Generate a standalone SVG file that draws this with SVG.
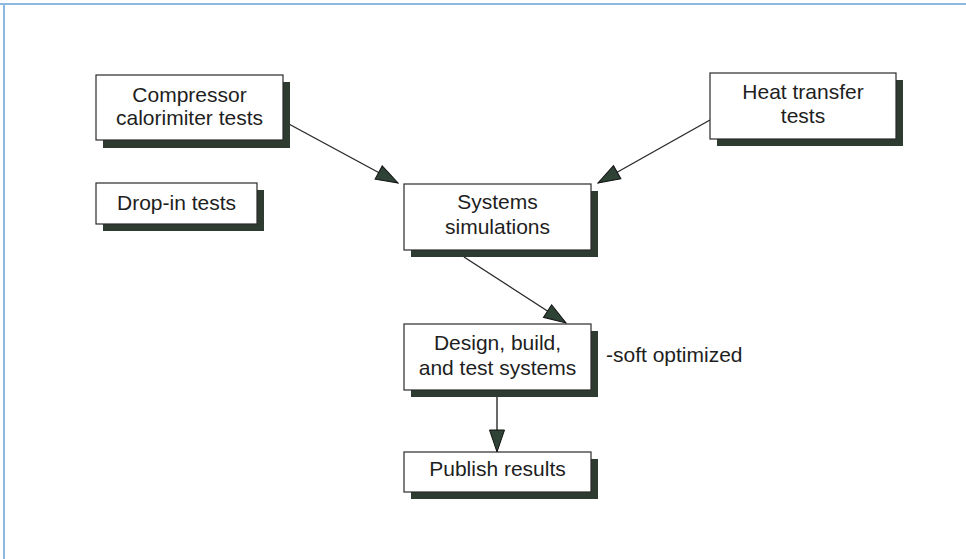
<svg xmlns="http://www.w3.org/2000/svg" width="966" height="559" viewBox="0 0 966 559">
  <style>
    .box { fill: #ffffff; stroke: #2a2a2a; stroke-width: 1.2; }
    .shadow { fill: #2d3b31; }
    .label { font-family: "Liberation Sans", Arial, sans-serif; font-size: 21px; fill: #1e1e1e; text-anchor: middle; }
    .note { font-family: "Liberation Sans", Arial, sans-serif; font-size: 21px; fill: #1e1e1e; }
    .link { stroke: #2a2a2a; stroke-width: 1.4; fill: none; marker-end: url(#head); }
  </style>
  <defs>
    <marker id="head" markerUnits="userSpaceOnUse" markerWidth="24" markerHeight="18" refX="23" refY="8.5" orient="auto">
      <path d="M1,1 L23,8.5 L1,16 Z" fill="#2f4236" stroke="#111" stroke-width="1"/>
    </marker>
  </defs>

  <rect width="966" height="559" fill="#ffffff"/>
  <!-- page frame -->
  <line x1="0" y1="4" x2="966" y2="4" stroke="#8bb9e2" stroke-width="2"/>
  <line x1="4" y1="4" x2="4" y2="559" stroke="#8bb9e2" stroke-width="2"/>

  <g id="connectors">
    <line class="link" x1="287" y1="123" x2="398" y2="183"/>
    <line class="link" x1="710" y1="120" x2="598" y2="183"/>
    <line class="link" x1="464" y1="257" x2="566" y2="323"/>
    <line class="link" x1="497" y1="397" x2="497" y2="452"/>
  </g>

  <g id="compressor">
    <rect class="shadow" x="103" y="82" width="187" height="66"/>
    <rect class="box" x="96" y="75" width="187" height="65"/>
    <text class="label" x="189.5" y="102">Compressor</text>
    <text class="label" x="189.5" y="125">calorimiter tests</text>
  </g>

  <g id="dropin">
    <rect class="shadow" x="103" y="190" width="161" height="41"/>
    <rect class="box" x="96" y="183" width="161" height="41"/>
    <text class="label" x="176.5" y="210">Drop-in tests</text>
  </g>

  <g id="heat">
    <rect class="shadow" x="717" y="80" width="186" height="66"/>
    <rect class="box" x="710" y="73" width="186" height="66"/>
    <text class="label" x="803" y="99">Heat transfer</text>
    <text class="label" x="803" y="123">tests</text>
  </g>

  <g id="simulations">
    <rect class="shadow" x="411" y="191" width="187" height="66"/>
    <rect class="box" x="404" y="184" width="187" height="66"/>
    <text class="label" x="497.5" y="209">Systems</text>
    <text class="label" x="497.5" y="234">simulations</text>
  </g>

  <g id="design">
    <rect class="shadow" x="411" y="331" width="187" height="66"/>
    <rect class="box" x="404" y="324" width="187" height="66"/>
    <text class="label" x="497.5" y="350">Design, build,</text>
    <text class="label" x="497.5" y="375">and test systems</text>
  </g>

  <g id="publish">
    <rect class="shadow" x="411" y="459" width="187" height="40"/>
    <rect class="box" x="404" y="452" width="187" height="40"/>
    <text class="label" x="497.5" y="476">Publish results</text>
  </g>

  <g id="note">
    <text class="note" x="606" y="362">-soft optimized</text>
  </g>
</svg>
